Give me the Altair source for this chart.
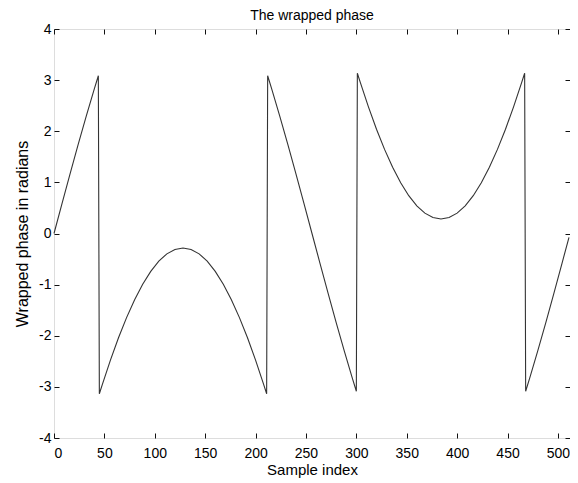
import altair as alt
import pandas as pd

# Sample index and wrapped phase (radians)
sample_index = [0, 8, 16, 24, 32, 40, 44, 45, 48, 56, 64, 72, 80, 88, 96, 104,
                112, 120, 128, 136, 144, 152, 160, 168, 176, 184, 192, 200, 208,
                211, 212, 216, 224, 232, 240, 248, 256, 264, 272, 280, 288, 296,
                300, 301, 304, 312, 320, 328, 336, 344, 352, 360, 368, 376, 384,
                392, 400, 408, 416, 424, 432, 440, 448, 456, 464, 467, 468, 472,
                480, 488, 496, 504, 511]
wrapped_phase = [0.0, 0.588, 1.171, 1.742, 2.296, 2.828, 3.085, -3.135, -2.950,
                 -2.477, -2.040, -1.645, -1.294, -0.991, -0.740, -0.541, -0.398,
                 -0.312, -0.283, -0.312, -0.398, -0.541, -0.740, -0.991, -1.294,
                 -1.645, -2.040, -2.477, -2.950, -3.135, 3.085, 2.828, 2.296,
                 1.742, 1.171, 0.588, 0.0, -0.588, -1.171, -1.742, -2.296, -2.828,
                 -3.085, 3.135, 2.950, 2.477, 2.040, 1.645, 1.294, 0.991, 0.740,
                 0.541, 0.398, 0.312, 0.283, 0.312, 0.398, 0.541, 0.740, 0.991,
                 1.294, 1.645, 2.040, 2.477, 2.950, 3.135, -3.085, -2.828, -2.296,
                 -1.742, -1.171, -0.588, -0.074]

x_ticks = [0, 50, 100, 150, 200, 250, 300, 350, 400, 450, 500]
y_ticks = [-4, -3, -2, -1, 0, 1, 2, 3, 4]

df = pd.DataFrame({"n": sample_index, "phase": wrapped_phase})

FONT = "Liberation Sans"
xscale = alt.Scale(domain=[0, 512], nice=False, zero=False)
yscale = alt.Scale(domain=[-4, 4], nice=False, zero=False)
lbl = "toString(datum.value)"

common = dict(domain=False, grid=False, tickSize=5, offset=-5, tickColor="#111",
              tickWidth=1, labelFont=FONT, labelFontSize=14, labelColor="#000",
              titleFont=FONT, titleColor="#000", titleFontWeight="normal")

base = alt.Chart(df)

line = base.mark_line(color="#333333", strokeWidth=1.1).encode(
    x=alt.X("n:Q", scale=xscale,
            axis=alt.Axis(orient="bottom", values=x_ticks, title="Sample index",
                          labelPadding=8, titlePadding=2, titleFontSize=15,
                          labelExpr=lbl, **common)),
    y=alt.Y("phase:Q", scale=yscale,
            axis=alt.Axis(orient="left", values=y_ticks,
                          title="Wrapped phase in radians", labelPadding=3,
                          titlePadding=8, titleFontSize=16, labelExpr=lbl,
                          **common)),
)

frame = base.mark_point(opacity=0).encode(
    x=alt.X("n:Q", scale=xscale,
            axis=alt.Axis(orient="top", values=x_ticks, labels=False, title=None,
                          **common)),
    y=alt.Y("phase:Q", scale=yscale,
            axis=alt.Axis(orient="right", values=y_ticks, labels=False, title=None,
                          **common)),
)

chart = (
    alt.layer(line, frame)
    .resolve_axis(x="independent", y="independent")
    .properties(
        width=516, height=409,
        title=alt.TitleParams("The wrapped phase", font=FONT, fontSize=14,
                              fontWeight="normal", color="#000", anchor="middle",
                              frame="group", offset=-1),
        autosize=alt.AutoSizeParams(type="none"),
        padding={"left": 46, "top": 21, "right": 0, "bottom": 46},
    )
    .configure_view(stroke="#111", strokeWidth=1)
    .configure(background="white")
)

chart.save("out.html", embed_options={"renderer": "svg", "actions": False})
